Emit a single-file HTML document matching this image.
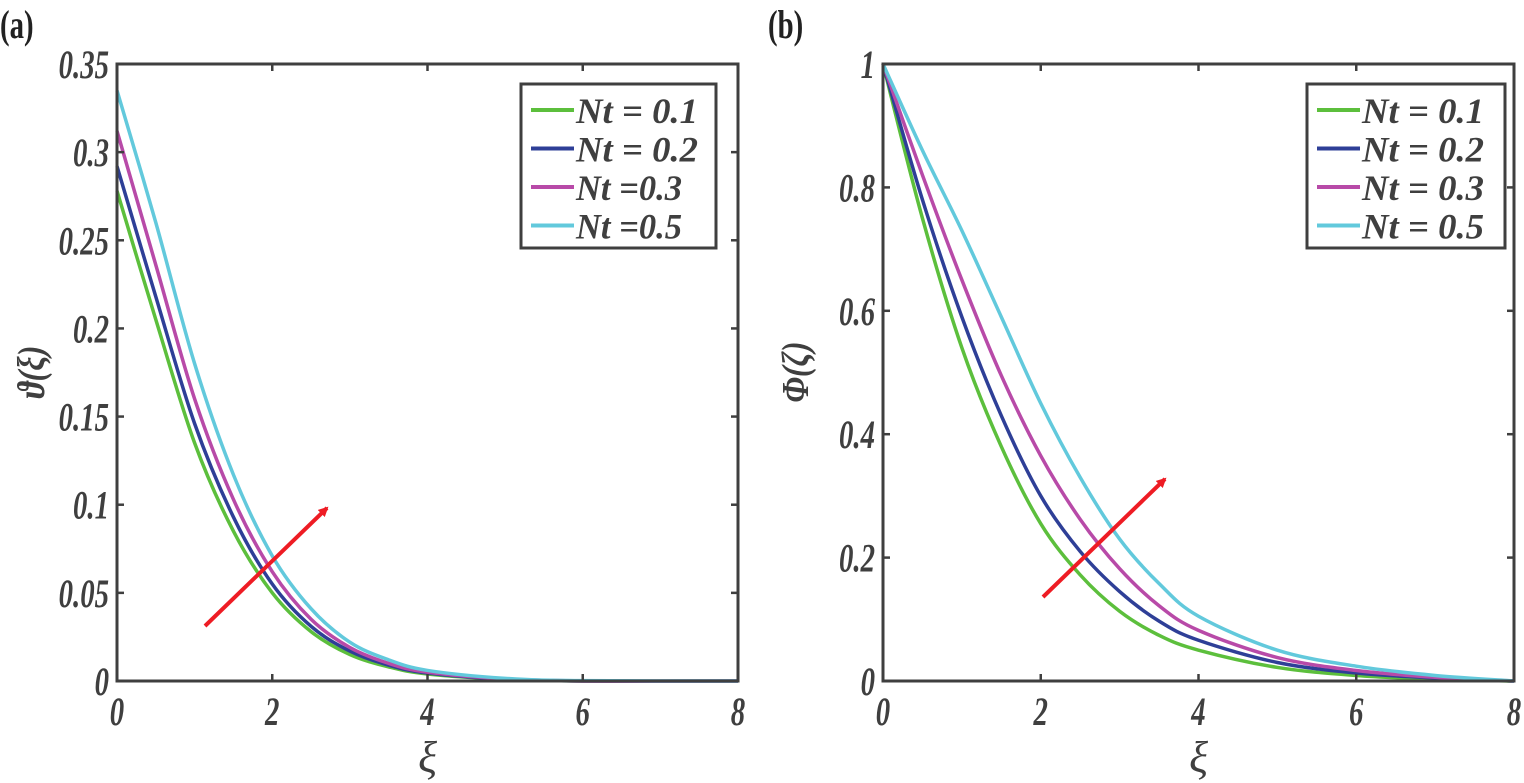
<!DOCTYPE html>
<html><head><meta charset="utf-8">
<style>
html,body{margin:0;padding:0;background:#fff;}
svg{display:block;}
text{font-family:"Liberation Serif","DejaVu Serif",serif;font-weight:bold;font-style:italic;fill:#3f3f3f;}
</style></head>
<body>
<svg id="chart" width="1524" height="783" viewBox="0 0 1524 783" xmlns="http://www.w3.org/2000/svg">
<defs>
<marker id="arr" markerWidth="10" markerHeight="10" refX="8" refY="5" orient="auto" markerUnits="userSpaceOnUse" viewBox="0 0 10 10">
<path d="M0,0 L10,5 L0,10 z" fill="#ee1c24"/>
</marker>
</defs>
<g id="pa"></g>
<g id="pb"></g>
</svg>
<script>
const xsA = [0,0.5,1,1.5,2,2.5,3,3.5,4,5,6,8];
const a01 = [0.278,0.205,0.135,0.085,0.05,0.028,0.015,0.008,0.004,0.001,0,0];
const a02 = [0.292,0.218,0.146,0.093,0.055,0.031,0.017,0.009,0.0045,0.001,0,0];
const a03 = [0.312,0.236,0.160,0.103,0.062,0.035,0.019,0.010,0.005,0.0012,0,0];
const a05 = [0.335,0.260,0.180,0.117,0.071,0.041,0.022,0.012,0.006,0.0015,0.0002,0];
const xsB = [0,0.5,1,1.5,2,2.5,3,3.5,4,5,6,7,8];
const b01 = [1,0.75,0.54,0.38,0.255,0.172,0.113,0.074,0.05,0.022,0.009,0.003,0];
const b02 = [1,0.78,0.59,0.43,0.30,0.21,0.145,0.097,0.066,0.030,0.013,0.005,0];
const b03 = [1,0.82,0.65,0.495,0.365,0.262,0.182,0.122,0.082,0.038,0.017,0.006,0];
const b05 = [1,0.86,0.73,0.59,0.45,0.33,0.23,0.158,0.105,0.05,0.024,0.009,0];
const xTicks = [0,2,4,6,8];
const yTicksA = [0,0.05,0.1,0.15,0.2,0.25,0.3,0.35];
const yLabelsA = ["0","0.05","0.1","0.15","0.2","0.25","0.3","0.35"];
const yTicksB = [0,0.2,0.4,0.6,0.8,1];
const yLabelsB = ["0","0.2","0.4","0.6","0.8","1"];
const legA = ["Nt = 0.1","Nt = 0.2","Nt =0.3","Nt =0.5"];
const legB = ["Nt = 0.1","Nt = 0.2","Nt = 0.3","Nt = 0.5"];
const colors = ["#5cbf3c","#2e3f97","#b84aa8","#62c9dc"];

const NS="http://www.w3.org/2000/svg";
function mk(parent,tag,attrs,txt){const e=document.createElementNS(NS,tag);for(const k in attrs)e.setAttribute(k,attrs[k]);if(txt!==undefined)e.textContent=txt;parent.appendChild(e);return e;}
function smooth(pts){let d="M"+pts[0][0]+","+pts[0][1];for(let i=0;i<pts.length-1;i++){const p0=pts[i-1]||pts[i],p1=pts[i],p2=pts[i+1],p3=pts[i+2]||p2;const c1x=p1[0]+(p2[0]-p0[0])/6,c1y=p1[1]+(p2[1]-p0[1])/6,c2x=p2[0]-(p3[0]-p1[0])/6,c2y=p2[1]-(p3[1]-p1[1])/6;d+=" C"+c1x+","+c1y+" "+c2x+","+c2y+" "+p2[0]+","+p2[1];}return d;}
function sq(x){return "translate("+x+",0) scale(0.72,1) translate("+(-x)+",0)";}

function panel(g,cfg){
  const L=cfg.L,R=cfg.R,T=64,B=681;
  const sx=v=>L+(v-0)/8*(R-L);
  const sy=v=>B-(v-cfg.ymin)/(cfg.ymax-cfg.ymin)*(B-T);
  cfg.series.forEach((s,i)=>{
    const pts=cfg.xs.map((x,j)=>[sx(x),sy(s[j])]);
    const p=mk(g,"path",{d:smooth(pts),fill:"none",stroke:colors[i],"stroke-width":3.5});
    
    
  });
  const box=mk(g,"rect",{x:L,y:T,width:R-L,height:B-T,fill:"none",stroke:"#3f3f3f","stroke-width":3});
  
  
  xTicks.forEach(v=>{
    const x=sx(v);
    mk(g,"line",{x1:x,y1:B,x2:x,y2:B-7,stroke:"#3f3f3f","stroke-width":2.5});
    mk(g,"line",{x1:x,y1:T,x2:x,y2:T+7,stroke:"#3f3f3f","stroke-width":2.5});
    const t=mk(g,"text",{x:x,y:B+44,"text-anchor":"middle","font-size":40,transform:sq(x)},String(v));
    
    
  });
  cfg.yt.forEach((v,i)=>{
    const y=sy(v);
    mk(g,"line",{x1:L,y1:y,x2:L+7,y2:y,stroke:"#3f3f3f","stroke-width":2.5});
    mk(g,"line",{x1:R,y1:y,x2:R-7,y2:y,stroke:"#3f3f3f","stroke-width":2.5});
    const t=mk(g,"text",{x:L-8,y:y+14,"text-anchor":"end","font-size":40,transform:sq(L-8)},cfg.yl[i]);
    
    
  });
  const xt=mk(g,"text",{x:(L+R)/2,y:772,"text-anchor":"middle","font-size":44,style:"font-weight:normal"},"ξ");
  
  
  const yt=mk(g,"text",{x:0,y:0,"text-anchor":"middle","font-size":38,transform:"translate("+cfg.ytx+",372) rotate(-90) scale(0.85,1)"},cfg.ytitle);
  
  
  const pl=mk(g,"text",{x:cfg.plx,y:38,"font-size":40,style:"font-style:normal;fill:#222",transform:sq(cfg.plx)},cfg.pl);
  
  
  const lg=mk(g,"g",{});
  
  
  mk(lg,"rect",{x:cfg.lx,y:84,width:cfg.lw,height:164,fill:"#fff",stroke:"#3f3f3f","stroke-width":3});
  cfg.leg.forEach((s,i)=>{
    const y=110+i*38.5;
    const e=mk(lg,"g",{});
    
    
    mk(e,"line",{x1:cfg.lx+10,y1:y,x2:cfg.lx+53,y2:y,stroke:colors[i],"stroke-width":4});
    mk(e,"text",{x:cfg.lx+55,y:y+13,"font-size":36,"textLength":cfg.tl[i],"lengthAdjust":"spacingAndGlyphs"},s);
  });
  const ar=mk(g,"line",{x1:cfg.ar[0],y1:cfg.ar[1],x2:cfg.ar[2],y2:cfg.ar[3],stroke:"#ee1c24","stroke-width":4,"marker-end":"url(#arr)"});
  
  
}
panel(document.getElementById("pa"),{L:117,R:738,ymin:0,ymax:0.35,xs:xsA,series:[a01,a02,a03,a05],yt:yTicksA,yl:yLabelsA,leg:legA,tl:[122,122,106,106],lx:521,lw:195,ytx:44,ytitle:"ϑ(ξ)",pl:"(a)",plx:0,ar:[205,626,327,508]});
panel(document.getElementById("pb"),{L:883,R:1514,ymin:0,ymax:1,xs:xsB,series:[b01,b02,b03,b05],yt:yTicksB,yl:yLabelsB,leg:legB,tl:[122,122,122,122],lx:1307,lw:198,ytx:808,ytitle:"Φ(ζ)",pl:"(b)",plx:768,ar:[1043,597,1165,479]});
</script>
</body></html>
